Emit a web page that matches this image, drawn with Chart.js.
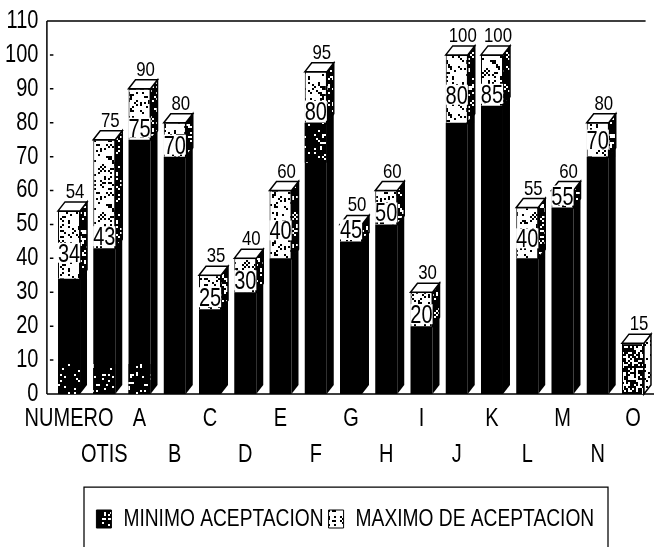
<!DOCTYPE html>
<html>
<head>
<meta charset="utf-8">
<title>Aceptacion por grupo</title>
<script src="https://cdn.jsdelivr.net/npm/chart.js@4/dist/chart.umd.min.js"></script>
<style>
    html, body { margin: 0; padding: 0; background: #fff; }
    #wrap { width: 654px; height: 547px; }
</style>
</head>
<body>
<div id="wrap"><canvas id="chart" width="654" height="547"></canvas></div>
<script>
// --- Data ---
const categories = ["NUMERO", "OTIS", "A", "B", "C", "D", "E", "F", "G", "H", "I", "J", "K", "L", "M", "N", "O"];
const minimoValues = [34, 43, 75, 70, 25, 30, 40, 80, 45, 50, 20, 80, 85, 40, 55, 70, null];
const maximoValues = [54, 75, 90, 80, 35, 40, 60, 95, 50, 60, 30, 100, 100, 55, 60, 80, 15];
const seriesNames = ["MINIMO ACEPTACION", "MAXIMO DE ACEPTACION"];

// --- Styling constants ---
const FONT = "'Liberation Sans', sans-serif";
const TEXT_SQUEEZE = 0.8;  // no narrow face is available, so text is condensed on the canvas
const INK = "#000";
const DEPTH_X = 7;
const DEPTH_Y = 9;
const AXIS_GAP = 4.5;      // the value axis sits a little left of the plot area
const LEGEND_SHIFT = 20;

// Some of the inner labels sit higher than the segment edge (pixels)
const innerLabelRaise = { NUMERO: 14, E: 16, J: 16, L: 8, N: 5 };

// Condense all canvas text around its anchor, and report the condensed width to the layout
const proto = CanvasRenderingContext2D.prototype;
const rawFillText = proto.fillText;
const rawMeasureText = proto.measureText;
proto.fillText = function (text, x, y) {
    this.save();
    this.translate(x, y);
    this.scale(TEXT_SQUEEZE, 1);
    rawFillText.call(this, text, 0, 0);
    this.restore();
};
proto.measureText = function (text) {
    const m = rawMeasureText.call(this, text);
    return { width: m.width * TEXT_SQUEEZE, actualBoundingBoxAscent: m.actualBoundingBoxAscent, actualBoundingBoxDescent: m.actualBoundingBoxDescent };
};

// Speckled fills, built from a small repeating tile
function speckle(bg, fg, density) {
    const size = 48;
    const tile = document.createElement("canvas");
    tile.width = tile.height = size;
    const c = tile.getContext("2d");
    c.fillStyle = bg;
    c.fillRect(0, 0, size, size);
    c.fillStyle = fg;
    for (let y = 0; y < size; y += 2) {
        for (let x = 0; x < size; x += 2) {
            const h = Math.abs(Math.sin(x * 12.9898 + y * 78.233) * 43758.5453) % 1;
            if (h < density) c.fillRect(x, y, 2, 2);
        }
    }
    return c.createPattern(tile, "repeat");
}

const lightFill = speckle("#fff", "#000", 0.22);
const sideFill = speckle("#000", "#fff", 0.22);
const grainFill = speckle("#000", "#fff", 0.1);
const swatchFill = speckle("#000", "#fff", 0.2);
const denseFill = speckle("#000", "#fff", 0.38);

// Worn patches on the dark segments: at the foot of some bars, under the edge of another
const footGrain = ["NUMERO", "OTIS", "A"];
const edgeGrain = ["F"];

// --- Plugins ---
const axisFrame = {
    id: "axisFrame",
    afterLayout(chart) {
        chart.legend.left += LEGEND_SHIFT;
        chart.legend.right += LEGEND_SHIFT;
    },
    beforeDatasetsDraw(chart) {
        const { ctx, chartArea, scales } = chart;
        const axisX = chartArea.left - AXIS_GAP;
        ctx.save();
        ctx.strokeStyle = INK;
        ctx.lineWidth = 1.5;
        ctx.beginPath();
        ctx.moveTo(axisX, chartArea.top);
        ctx.lineTo(axisX, chartArea.bottom);
        ctx.moveTo(axisX, chartArea.top);
        ctx.lineTo(chartArea.right - 5, chartArea.top);
        ctx.moveTo(axisX, chartArea.bottom);
        ctx.lineTo(chart.width, chartArea.bottom);
        scales.y.ticks.forEach(tick => {
            const y = scales.y.getPixelForValue(tick.value);
            if (tick.value === 0 || tick.value === scales.y.max) return;
            ctx.moveTo(axisX + 3, y);
            ctx.lineTo(axisX + 6.5, y);
        });
        ctx.stroke();

        // Legend frame runs off the bottom of the page
        ctx.lineWidth = 1.25;
        ctx.beginPath();
        ctx.moveTo(84, chart.height);
        ctx.lineTo(84, 487);
        ctx.lineTo(608, 487);
        ctx.lineTo(608, chart.height);
        ctx.stroke();
        ctx.restore();
    }
};

const bars3d = {
    id: "bars3d",
    afterDatasetsDraw(chart) {
        const { ctx, scales } = chart;
        const low = chart.getDatasetMeta(0).data;
        const high = chart.getDatasetMeta(1).data;
        const floor = scales.y.getPixelForValue(0);
        ctx.save();
        ctx.lineWidth = 1.5;
        ctx.strokeStyle = INK;
        high.forEach((bar, i) => {
            const left = bar.x - bar.width / 2;
            const right = bar.x + bar.width / 2;
            const boundary = minimoValues[i] === null ? floor : low[i].y;

            // grain on the dark front
            ctx.fillStyle = grainFill;
            if (footGrain.includes(categories[i])) ctx.fillRect(left, floor - 30, bar.width, 30);
            if (edgeGrain.includes(categories[i])) ctx.fillRect(left, boundary, bar.width, 40);

            // dark side of the lower segment
            ctx.fillStyle = INK;
            ctx.beginPath();
            ctx.moveTo(right, floor);
            ctx.lineTo(right + DEPTH_X, floor - DEPTH_Y);
            ctx.lineTo(right + DEPTH_X, boundary - DEPTH_Y);
            ctx.lineTo(right, boundary);
            ctx.closePath();
            ctx.fill();

            // speckled side of the upper segment
            ctx.fillStyle = minimoValues[i] === null ? lightFill : sideFill;
            ctx.beginPath();
            ctx.moveTo(right, boundary);
            ctx.lineTo(right + DEPTH_X, boundary - DEPTH_Y);
            ctx.lineTo(right + DEPTH_X, bar.y - DEPTH_Y);
            ctx.lineTo(right, bar.y);
            ctx.closePath();
            ctx.fill();
            ctx.stroke();

            // white lid
            ctx.fillStyle = "#fff";
            ctx.beginPath();
            ctx.moveTo(left, bar.y);
            ctx.lineTo(left + DEPTH_X, bar.y - DEPTH_Y);
            ctx.lineTo(right + DEPTH_X, bar.y - DEPTH_Y);
            ctx.lineTo(right, bar.y);
            ctx.closePath();
            ctx.fill();
            ctx.stroke();
        });

        // value labels
        ctx.fillStyle = INK;
        ctx.textAlign = "center";
        ctx.textBaseline = "alphabetic";
        high.forEach((bar, i) => {
            ctx.font = "21px " + FONT;
            ctx.fillText(maximoValues[i], bar.x + 6, bar.y - 13);

            if (minimoValues[i] === null) return;
            const text = String(minimoValues[i]);
            const y = low[i].y - 3 - (innerLabelRaise[categories[i]] || 0);
            ctx.font = "25px " + FONT;
            const w = ctx.measureText(text).width;
            ctx.fillStyle = "#fff";
            ctx.fillRect(bar.x - w / 2, y - 19, w, 20);
            ctx.fillStyle = INK;
            ctx.fillText(text, bar.x, y);
        });
        ctx.restore();
    }
};

// --- Chart ---
new Chart(document.getElementById("chart"), {
    type: "bar",
    data: {
        labels: categories,
        datasets: [
            {
                label: seriesNames[0],
                data: minimoValues,
                backgroundColor: INK,
                borderWidth: 0
            },
            {
                label: seriesNames[1],
                data: maximoValues.map((v, i) => [minimoValues[i] === null ? 0 : minimoValues[i], v]),
                backgroundColor: minimoValues.map(v => v === null ? denseFill : lightFill),
                borderColor: INK,
                borderWidth: 1
            }
        ]
    },
    options: {
        responsive: false,
        animation: false,
        events: [],
        layout: { padding: { top: 21, right: 3.4, left: 0, bottom: 6 } },
        datasets: { bar: { grouped: false, categoryPercentage: 1, barPercentage: 0.624 } },
        scales: {
            x: {
                grid: { display: false, drawTicks: false },
                border: { display: false },
                afterFit(scale) {
                    scale.height = 108;
                    scale.paddingLeft = 0;
                    scale.paddingRight = 0;
                },
                ticks: {
                    autoSkip: false,
                    maxRotation: 0,
                    padding: 7,
                    color: INK,
                    font: { family: FONT, size: 25, lineHeight: 36 / 25 },
                    callback(value, index) {
                        const name = this.getLabelForValue(value);
                        return index % 2 ? ["", name] : [name, ""];
                    }
                }
            },
            y: {
                min: 0,
                max: 110,
                grid: { display: false, drawTicks: false },
                border: { display: false },
                afterFit(scale) {
                    scale.width = 51.4;
                    scale.paddingTop = 0;
                    scale.paddingBottom = 0;
                },
                ticks: {
                    stepSize: 10,
                    padding: 13,
                    color: INK,
                    font: { family: FONT, size: 25 }
                }
            }
        },
        plugins: {
            tooltip: { enabled: false },
            legend: {
                position: "bottom",
                labels: {
                    boxWidth: 15,
                    boxHeight: 18,
                    padding: 5,
                    color: INK,
                    font: { family: FONT, size: 24 },
                    generateLabels() {
                        return [
                            { text: seriesNames[0], fillStyle: swatchFill, strokeStyle: INK, lineWidth: 1 },
                            { text: seriesNames[1], fillStyle: lightFill, strokeStyle: INK, lineWidth: 1 }
                        ];
                    }
                }
            }
        }
    },
    plugins: [axisFrame, bars3d]
});
</script>
</body>
</html>
